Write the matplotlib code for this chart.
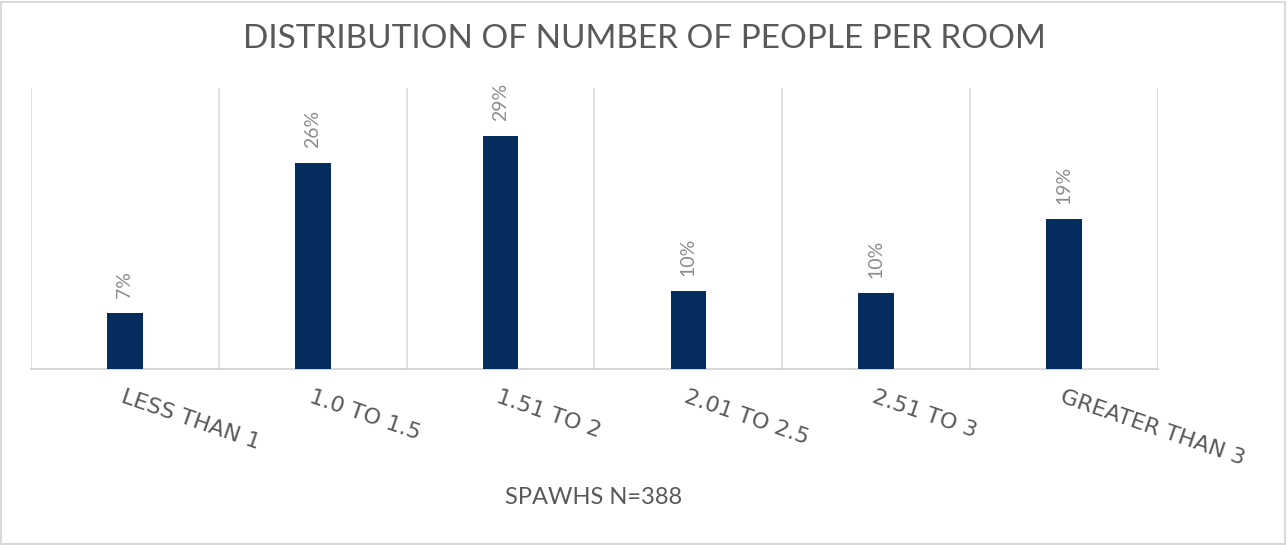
import matplotlib

matplotlib.use('agg')
import matplotlib.pyplot as plt
from matplotlib.patches import Rectangle
import numpy as np

categories = ['LESS THAN 1', '1.0 TO 1.5', '1.51 TO 2', '2.01 TO 2.5', '2.51 TO 3', 'GREATER THAN 3']
shares = [7.1, 26.0, 29.4, 9.8, 9.6, 18.9]
labels = ['7%', '26%', '29%', '10%', '10%', '19%']

plt.rcParams['font.family'] = ['Lato', 'DejaVu Sans']
gray = '#595959'

fig = plt.figure(figsize=(12.88, 5.45), dpi=100)
ax = fig.add_axes([31 / 1288, 1 - 369 / 545, (1158 - 31) / 1288, (369 - 88) / 545])

x = np.arange(len(categories))
ax.bar(x, shares, width=0.19, color='#042d5e', zorder=3)
for xi, v, lab in zip(x, shares, labels):
    ax.annotate(lab, (xi, v), xytext=(0, 11), textcoords='offset points',
                rotation=90, ha='center', va='bottom', color='#8c8c8c', fontsize=14)

ax.set_xlim(-0.5, len(categories) - 0.5)
ax.set_ylim(0, 35.5)
ax.set_yticks([])
ax.set_xticks(x)
ax.set_xticklabels(categories, rotation=-19, ha='left', rotation_mode='anchor',
                   color=gray, fontsize=16, family='DejaVu Sans')
ax.tick_params(axis='x', length=0, pad=13)
for b in np.arange(-0.5, len(categories), 1.0):
    ax.axvline(b, color='#d9d9d9', lw=1.2, zorder=1)
for s in ['top', 'right', 'left']:
    ax.spines[s].set_visible(False)
ax.spines['bottom'].set_color('#d0d0d0')
ax.spines['bottom'].set_linewidth(1.2)

fig.text(644 / 1288, 1 - 39 / 545, 'DISTRIBUTION OF NUMBER OF PEOPLE PER ROOM', ha='center', va='center',
         fontsize=24, color=gray)
fig.text(594 / 1288, 1 - 498 / 545, 'SPAWHS N=388', ha='center', va='center', fontsize=17, color=gray)

fig.patches.append(Rectangle((0.001, 0.002), 0.997, 0.995, transform=fig.transFigure,
                             fill=False, edgecolor='#d9d9d9', lw=1.5))

plt.savefig('out.png')
